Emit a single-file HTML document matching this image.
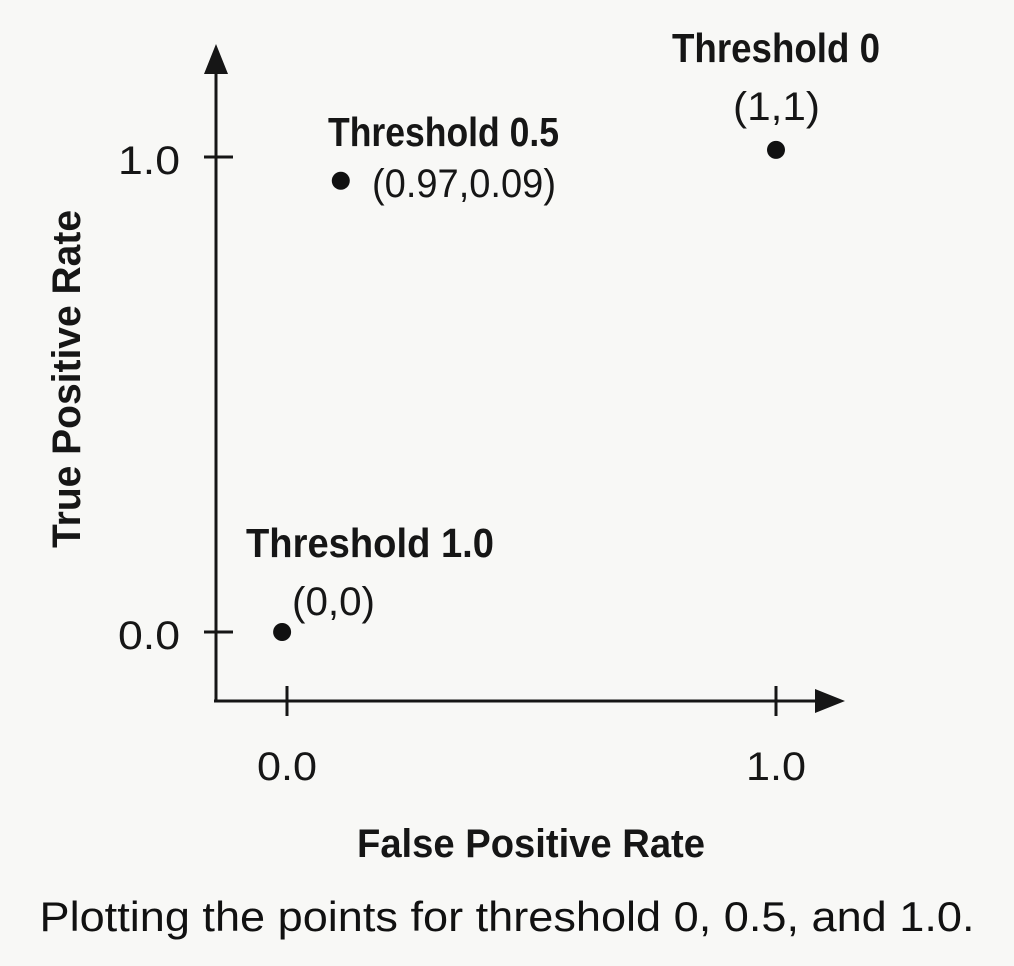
<!DOCTYPE html>
<html>
<head>
<meta charset="utf-8">
<style>
  html,body{margin:0;padding:0;background:#f8f8f6;}
  svg{display:block;}
  text{font-family:"Liberation Sans",sans-serif;fill:#161616;}
  .b{font-weight:bold;}
</style>
</head>
<body>
<svg id="chart" width="1014" height="966" viewBox="0 0 1014 966" xmlns="http://www.w3.org/2000/svg">
  <rect width="1014" height="966" fill="#f8f8f6"/>
  <g id="axes" stroke="#161616" stroke-width="3" fill="none">
    <line x1="216" y1="70" x2="216" y2="702"/>
    <line x1="214" y1="701" x2="825" y2="701"/>
  </g>
  <polygon points="216,44 204,74 228,74" fill="#161616"/>
  <polygon points="845,701 815,689 815,713" fill="#161616"/>
  <g id="ticks"></g>
  <g id="points"></g>

  <text class="b" x="80" y="379" font-size="40" text-anchor="middle" textLength="338" lengthAdjust="spacingAndGlyphs" transform="rotate(-90 80 379)">True Positive Rate</text>
  <text class="b" x="531" y="857" font-size="40" text-anchor="middle" textLength="348" lengthAdjust="spacingAndGlyphs">False Positive Rate</text>

  <text class="b" x="672" y="62" font-size="41" textLength="208" lengthAdjust="spacingAndGlyphs">Threshold 0</text>
  <text x="733" y="120" font-size="40" textLength="87" lengthAdjust="spacingAndGlyphs">(1,1)</text>
  <text class="b" x="328" y="146" font-size="41" textLength="231" lengthAdjust="spacingAndGlyphs">Threshold 0.5</text>
  <text x="372" y="197" font-size="40" textLength="184" lengthAdjust="spacingAndGlyphs">(0.97,0.09)</text>
  <text class="b" x="246" y="557" font-size="41" textLength="248" lengthAdjust="spacingAndGlyphs">Threshold 1.0</text>
  <text x="292" y="615" font-size="40" textLength="83" lengthAdjust="spacingAndGlyphs">(0,0)</text>

  <text x="507" y="931" font-size="42" text-anchor="middle" textLength="935" lengthAdjust="spacingAndGlyphs" style="fill:#111">Plotting the points for threshold 0, 0.5, and 1.0.</text>
</svg>
<script>
const xTickValues = [0, 1];
const xTickLabels = ["0.0", "1.0"];
const yTickValues = [0, 1];
const yTickLabels = ["0.0", "1.0"];
const pointNames = ["threshold-1-0", "threshold-0-5", "threshold-0"];
const pointFPR = [-0.01, 0.11, 1.0];
const pointTPR = [0, 0.95, 1.015];

const NS = "http://www.w3.org/2000/svg";
function xScale(v){ return 287 + v * (776 - 287); }
function yScale(v){ return 632 - v * (632 - 157); }

const ticks = document.getElementById("ticks");
xTickValues.forEach((v, i) => {
  const x = xScale(v);
  const l = document.createElementNS(NS, "line");
  l.setAttribute("x1", x); l.setAttribute("x2", x);
  l.setAttribute("y1", 686); l.setAttribute("y2", 716);
  l.setAttribute("stroke", "#161616"); l.setAttribute("stroke-width", "3");
  
  
  ticks.appendChild(l);
  const t = document.createElementNS(NS, "text");
  t.setAttribute("x", x); t.setAttribute("y", 780);
  t.setAttribute("font-size", "40"); t.setAttribute("text-anchor", "middle");
  t.setAttribute("textLength", "60"); t.setAttribute("lengthAdjust", "spacingAndGlyphs");
  t.textContent = xTickLabels[i];
  
  
  ticks.appendChild(t);
});
yTickValues.forEach((v, i) => {
  const y = yScale(v);
  const l = document.createElementNS(NS, "line");
  l.setAttribute("x1", 204); l.setAttribute("x2", 233);
  l.setAttribute("y1", y); l.setAttribute("y2", y);
  l.setAttribute("stroke", "#161616"); l.setAttribute("stroke-width", "3");
  
  
  ticks.appendChild(l);
  const t = document.createElementNS(NS, "text");
  t.setAttribute("x", 180); t.setAttribute("y", y + 17);
  t.setAttribute("font-size", "40"); t.setAttribute("text-anchor", "end");
  t.setAttribute("textLength", "62"); t.setAttribute("lengthAdjust", "spacingAndGlyphs");
  t.textContent = yTickLabels[i];
  
  
  ticks.appendChild(t);
});

const pts = document.getElementById("points");
pointFPR.forEach((v, i) => {
  const c = document.createElementNS(NS, "circle");
  c.setAttribute("cx", xScale(v));
  c.setAttribute("cy", yScale(pointTPR[i]));
  c.setAttribute("r", 9);
  c.setAttribute("fill", "#111");
  
  
  pts.appendChild(c);
});
</script>
</body>
</html>
